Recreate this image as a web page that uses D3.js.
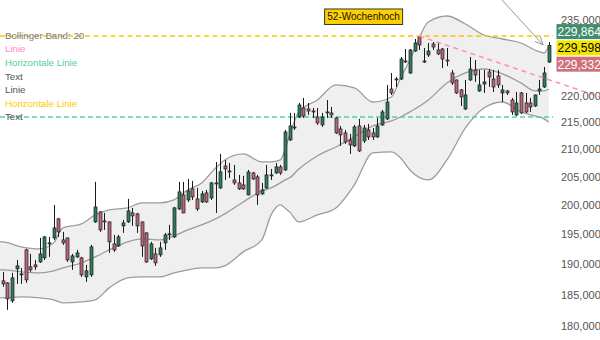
<!DOCTYPE html>
<html><head><meta charset="utf-8">
<script src="https://cdn.jsdelivr.net/npm/d3@7"></script>
<style>html,body{margin:0;padding:0;background:#fff;}svg{display:block;font-family:"Liberation Sans",Arial,sans-serif;}</style>
</head><body>
<svg id="chart" width="600" height="340"></svg>
<script>
// ---- candle data (index 0..118) ----
const opens = [187220,186890,183990,189190,188200,192340,189520,189850,190340,191010,193350,194360,197610,194020,194360,190340,191170,191010,187870,188200,
197090,198820,197260,197090,193350,193010,196410,197090,198640,198470,197090,195210,190840,191670,191510,193520,194870,194530,199330,201780,
200900,202840,201080,200550,202130,201250,203720,203010,206940,206040,204430,203900,203550,201780,205680,204970,201960,203010,205150,205680,
206760,206220,211680,214090,215960,217660,217470,217090,215960,214470,216720,216720,215780,213720,212980,211680,210580,214280,211500,213530,
212980,212240,214470,215590,221290,223040,223230,226760,224400,228740,231550,226560,227950,230140,228940,229140,226950,224400,223040,221100,
217470,223040,224990,220910,222260,224600,223230,223820,220530,220910,219180,216340,220530,218610,218610,218040,220910,221680,226560];
const highs = [188690,187000,188530,190670,189350,192510,191670,190670,194360,194700,194530,200030,197780,195380,194400,191670,192340,191170,189850,193180,
204080,198900,198640,197150,194870,194870,197430,201080,199510,198640,197150,195300,193690,192680,193690,195210,196580,199680,204080,204080,
204610,204250,203010,202480,202660,204080,207660,209120,208020,207480,207120,205330,205150,206220,205860,205330,203900,207120,206400,207480,
207120,213530,216720,216720,218610,219570,218610,217660,217660,216720,219180,217850,215960,214280,213530,212790,214470,215590,214470,214650,
213900,215780,217280,222070,224400,223620,227550,229140,229140,231140,231750,229340,230340,230540,230540,229340,229340,224990,223100,221290,
223040,227550,226950,224990,224990,225180,224990,224990,222070,221100,219570,220720,220720,220530,219570,220200,223040,225580,230540];
const lows = [186240,182550,183670,186730,186730,186890,188690,189020,190180,190670,191170,194020,194530,193180,190340,189020,191010,187870,187060,187870,
196920,195380,195720,191840,192010,192850,195210,196920,196410,195210,191170,190180,190670,189680,191170,192340,194020,194360,199160,198600,
200550,200900,198990,200380,200380,200900,198640,202840,204430,204790,203550,202660,202660,201700,204430,200030,201780,202840,204430,205500,
205330,206040,211500,213530,215780,215780,216340,215780,214470,214090,215780,215780,212790,210580,210950,209120,210390,209480,211130,211680,
211680,212050,214280,215400,220140,221680,223040,226360,224210,228540,228940,226360,227550,228940,227950,225380,225770,222070,220330,218040,
217280,222840,222650,220720,220530,221680,220720,221490,218800,220140,216340,216150,216530,216720,216910,217850,220140,221490,226360];
const closes = [186730,184310,187710,189680,188360,187380,189020,189520,191670,194530,193520,196060,195380,193520,190670,191340,191840,188200,188860,192850,
199680,195720,197090,193690,192340,194530,196920,198990,198120,196410,193010,190340,193350,190180,192680,194870,195040,199510,202310,198640,
202480,201430,199330,201960,200550,203900,203900,205860,206400,205860,203900,202840,202840,205860,204610,201780,202660,205330,205330,206760,
205680,213160,214280,213900,218230,216150,217090,216910,214840,215960,216910,216340,212980,212610,211310,210760,214090,209660,213900,212240,
212240,214280,216910,218800,220530,223230,227150,226560,228940,230340,229940,226760,228740,229540,228150,227150,226760,222460,220530,219760,
220140,225180,224010,222070,222650,223620,221680,222070,221100,220530,216910,218610,216720,216910,217850,220140,221290,224400,229864];

// ---- Bollinger band (20) values read at candle indices ----
const bandIdx = [0,4,8,11,13,17,20,23,27,30,34,37,40,43,46,48,52,56,58,60,61,62,64,68,72,76,80,84,86,88,92,96,100,104,108,112,115,117,118];
const bandUpper = [193690,192850,192510,193520,196060,196750,198300,199160,199510,200380,200380,200900,202660,203900,206580,208020,209120,207660,207660,208020,209840,212610,216910,219180,222070,221490,218800,219760,223430,226950,234590,235820,234180,231950,231140,230340,228940,228340,229740];
const bandMid = [189020,188690,188530,188860,189350,190180,191170,192340,193690,194190,194020,194700,195720,196580,197610,198470,200550,202480,203010,203900,204430,204790,206400,208750,210390,212240,214280,215210,215960,216910,219180,222460,224400,225180,224210,222460,220910,220910,221290];
const bandLower = [184470,184630,184470,184150,183670,183830,184150,186080,187710,187870,187870,188530,189020,189350,189350,189680,192010,194020,198300,200030,199510,198820,197090,198300,199510,203550,209300,209480,208390,206220,204430,208020,213900,217660,218800,216910,216150,215590,215030];

// ---- annotations ----
const high52 = 231750;           // 52-Wochenhoch
const hLine = 215950;            // Horizontale Linie
const trendIdx = [90, 129.1];
const trendVal = [231750, 219760];
const arrowIdx = [107.3, 116.8];
const arrowVal = [239760, 229940];
// axis labels that are visible (225,000 and 230,000 sit under the price boxes)
const yTicks = [180000,185000,190000,195000,200000,205000,210000,215000,220000,235000];
const lastVals = [229864, 229598, 229332];
const lastFills = ["#3f8d6d", "#f2e500", "#d0707a"];
const lastTextCols = ["#ffffff", "#000000", "#ffffff"];
const legendItems = ["Bollinger Band: 20", "Linie", "Horizontale Linie", "Text", "Linie", "Horizontale Linie", "Text"];
const legendColors = ["#7a7a7a", "#ff8cc8", "#4fcf9e", "#555555", "#555555", "#ffc800", "#555555"];
const highLabel = "52-Wochenhoch";

const svg = d3.select("#chart");
const n = closes.length;
const x = d3.scaleLinear().domain([0, n - 1]).range([2.7, 548.7]);
const y = d3.scaleLog().domain([180000, 235000]).range([326, 20]);

// band fill + lines
const bandData = bandIdx.map((i, k) => ({i, u: bandUpper[k], m: bandMid[k], l: bandLower[k]}));
bandData.unshift({i: x.invert(0), u: bandUpper[0], m: bandMid[0], l: bandLower[0]});
const area = d3.area().x(d => x(d.i)).y0(d => y(d.l)).y1(d => y(d.u)).curve(d3.curveMonotoneX);
svg.append("path").datum(bandData).attr("d", area).attr("fill", "#efefef");
["u", "m", "l"].forEach(key => {
  const ln = d3.line().x(d => x(d.i)).y(d => y(d[key])).curve(d3.curveMonotoneX);
  svg.append("path").datum(bandData).attr("d", ln).attr("fill", "none")
    .attr("stroke", "#9c9c9c").attr("stroke-width", 1.3);
});

// horizontal dashed lines
svg.append("line").attr("x1", 0).attr("x2", 553).attr("y1", y(high52)).attr("y2", y(high52))
  .attr("stroke", "#ffc400").attr("stroke-width", 1.3).attr("stroke-dasharray", "5,3.5");
svg.append("line").attr("x1", 0).attr("x2", 553).attr("y1", y(hLine)).attr("y2", y(hLine))
  .attr("stroke", "#4fd4a2").attr("stroke-width", 1.4).attr("stroke-dasharray", "5,3");

// candles
const idx = d3.range(n);
const cg = svg.append("g");
cg.selectAll("line").data(idx).join("line")
  .attr("x1", i => Math.round(x(i)) + 0.5).attr("x2", i => Math.round(x(i)) + 0.5)
  .attr("y1", i => y(highs[i])).attr("y2", i => y(lows[i]))
  .attr("stroke", "#1a1a1a").attr("stroke-width", 1);
cg.selectAll("rect").data(idx).join("rect")
  .attr("x", i => Math.round(x(i)) - 1)
  .attr("width", 3)
  .attr("y", i => y(Math.max(opens[i], closes[i])))
  .attr("height", i => Math.max(1, Math.abs(y(opens[i]) - y(closes[i]))))
  .attr("fill", i => closes[i] >= opens[i] ? "#2e7d5c" : "#b86878")
  .attr("stroke", "#1e1e1e").attr("stroke-width", 0.7);

// trend line
svg.append("line")
  .attr("x1", x(trendIdx[0])).attr("y1", y(trendVal[0]))
  .attr("x2", x(trendIdx[1])).attr("y2", y(trendVal[1]))
  .attr("stroke", "#ff8cc8").attr("stroke-width", 1.5).attr("stroke-dasharray", "5,4");

// arrow
const ax1 = x(arrowIdx[0]), ay1 = y(arrowVal[0]), ax2 = x(arrowIdx[1]), ay2 = y(arrowVal[1]);
svg.append("line").attr("x1", ax1).attr("y1", ay1).attr("x2", ax2).attr("y2", ay2)
  .attr("stroke", "#9a9a9a").attr("stroke-width", 1);
const ang = Math.atan2(ay1 - ay2, ax1 - ax2);
[-0.42, 0.42].forEach(da => {
  svg.append("line").attr("x1", ax2).attr("y1", ay2)
    .attr("x2", ax2 + 9 * Math.cos(ang + da)).attr("y2", ay2 + 9 * Math.sin(ang + da))
    .attr("stroke", "#9a9a9a").attr("stroke-width", 1);
});

// legend
svg.append("g").selectAll("text").data(legendItems).join("text")
  .attr("x", 5).attr("y", (d, k) => 35.5 + k * 13.6).attr("dy", "0.35em")
  .attr("fill", (d, k) => legendColors[k]).style("font-size", "9.7px").text(d => d);

// axis
const axis = d3.axisRight(y).tickValues(yTicks).tickFormat(d3.format(",")).tickSize(0).tickPadding(0);
const axg = svg.append("g").attr("transform", "translate(561,0)").call(axis);
axg.select(".domain").remove();
axg.attr("font-size", 11).attr("font-family", "'Liberation Sans', Arial, sans-serif");
axg.selectAll("text").attr("fill", "#555");

// last value boxes
const midC = y(lastVals[1]) + 1.2;
const bg = svg.append("g");
lastVals.forEach((v, k) => {
  const cy = midC + (k - 1) * 16.3;
  bg.append("rect").attr("x", 556.5).attr("y", cy - 7.5).attr("width", 44).attr("height", 15)
    .attr("fill", lastFills[k]);
  bg.append("text").attr("x", 557.5).attr("y", cy).attr("dy", "0.36em")
    .attr("fill", lastTextCols[k]).style("font-size", "12px").text(d3.format(",")(v));
});

// 52-week-high label
const hx = x(78), hy = y(high52) - 27;
svg.append("rect").attr("x", hx - 39).attr("y", hy).attr("width", 78).attr("height", 15.5)
  .attr("fill", "#ffd000").attr("stroke", "#333").attr("stroke-width", 1);
svg.append("text").attr("x", hx).attr("y", hy + 8).attr("dy", "0.35em").attr("text-anchor", "middle")
  .attr("fill", "#111").style("font-size", "10px").text(highLabel);
</script>
</body></html>
